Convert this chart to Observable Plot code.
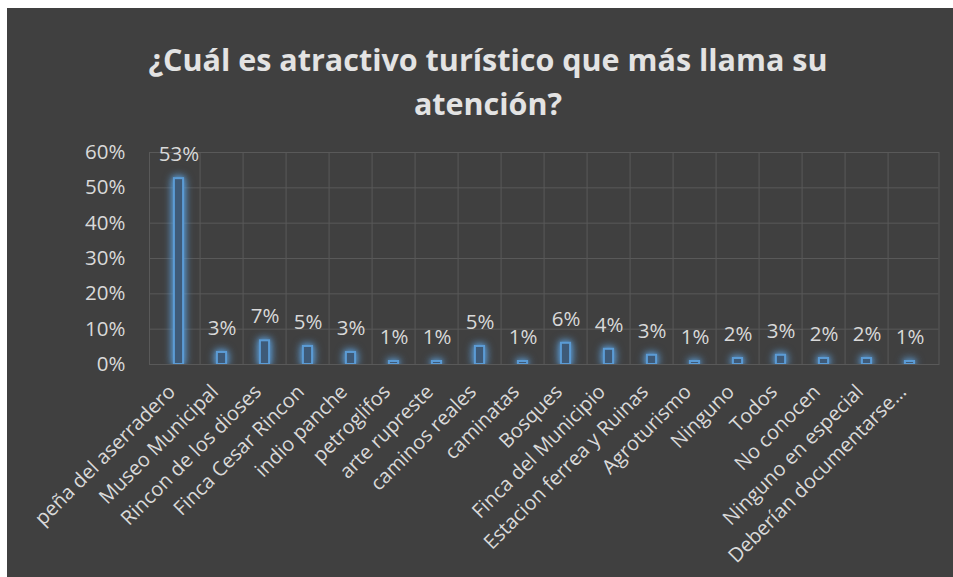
<!DOCTYPE html>
<html>
<head>
<meta charset="utf-8">
<script src="https://cdn.jsdelivr.net/npm/d3@7"></script>
<script src="https://cdn.jsdelivr.net/npm/@observablehq/plot@0.6"></script>
<style>
  html, body { margin: 0; padding: 0; background: #ffffff; }
  #chart { position: absolute; left: 7px; top: 8px; width: 946px; height: 569px; background: #404040; overflow: hidden; }
  #title { position: absolute; left: 0; top: 29px; width: 930px; padding-left: 16px; text-align: center;
           font-family: "Open Sans", sans-serif; font-weight: 700; font-size: 30.5px; line-height: 44px; color: #e3e3e3; }
  #plot { position: absolute; left: 0; top: 122px; }
  .glow rect { filter: drop-shadow(0 0 4px rgba(91,155,213,0.95)) drop-shadow(0 0 2px rgba(91,155,213,0.7)); }
</style>
</head>
<body>
<div id="chart">
  <div id="title">¿Cuál es atractivo turístico que más llama su<br>atención?</div>
  <div id="plot"></div>
</div>
<script>
const categories = ["peña del aserradero", "Museo Municipal", "Rincon de los dioses", "Finca Cesar Rincon", "indio panche", "petroglifos", "arte rupreste", "caminos reales", "caminatas", "Bosques", "Finca del Municipio", "Estacion ferrea y Ruinas", "Agroturismo", "Ninguno", "Todos", "No conocen", "Ninguno en especial", "Deberían documentarse…"];
const values = [52.6, 3.4, 6.7, 5.1, 3.4, 0.85, 0.85, 5.1, 0.85, 6.0, 4.3, 2.6, 0.85, 1.7, 2.6, 1.7, 1.7, 0.85];
const yTicks = [0, 10, 20, 30, 40, 50, 60];

const data = categories.map((c, i) => ({cat: c, value: values[i]}));

const W = 946, H = 447, ML = 142, MR = 14.5, MT = 22, MB = 213;
const step = (W - ML - MR) / categories.length;
const grid = "#595959";
const txt = "#d9d9d9";

const chart = Plot.plot({
  width: W, height: H,
  marginLeft: ML, marginRight: MR, marginTop: MT, marginBottom: MB,
  style: {background: "transparent", color: txt, fontFamily: "'Open Sans', sans-serif", fontSize: "20.5px"},
  x: {domain: categories, padding: 0},
  y: {domain: [0, 60]},
  marks: [
    Plot.gridY(yTicks, {stroke: grid, strokeOpacity: 1}),
    Plot.ruleX(categories.slice(1), {x: d => d, dx: -step / 2, stroke: grid}),
    Plot.frame({stroke: grid}),
    Plot.barY(data, {x: "cat", y: "value", fill: "#3e5a78", stroke: "#5b9bd5", strokeWidth: 2,
      insetLeft: (step - 10) / 2, insetRight: (step - 10) / 2, className: "glow", clip: "frame"}),
    Plot.text(data, {x: "cat", y: "value", text: d => Math.round(d.value) + "%", lineAnchor: "middle", dy: -24, fill: txt, fontSize: 20.5}),
    Plot.axisY({ticks: yTicks, tickFormat: d => d + "%", tickSize: 0, tickPadding: 24, fill: txt, fontSize: 20.5, label: null}),
    Plot.axisX({tickRotate: -45, tickSize: 0, tickPadding: 24, dx: -7, fill: txt, fontSize: 20, label: null})
  ]
});
document.getElementById("plot").appendChild(chart);
</script>
</body>
</html>
